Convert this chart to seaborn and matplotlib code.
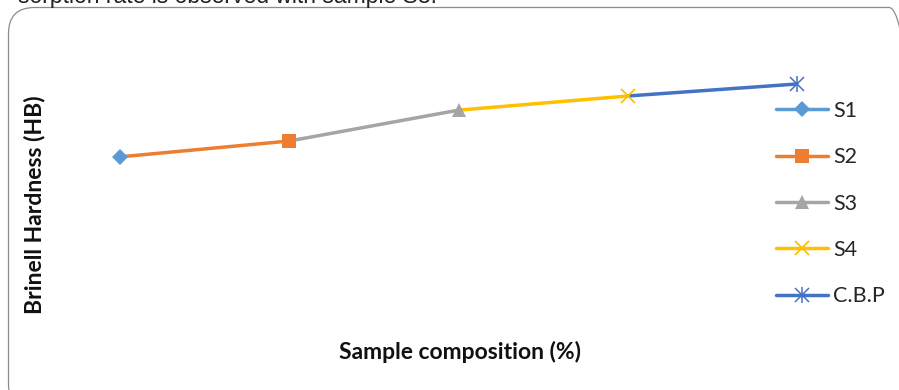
import matplotlib
matplotlib.use("Agg")
import matplotlib.pyplot as plt
import seaborn as sns
import pandas as pd
from matplotlib.lines import Line2D
from matplotlib.patches import FancyBboxPatch
from matplotlib.transforms import IdentityTransform
from matplotlib.legend_handler import HandlerTuple

# ---- data ----
series = ["S1", "S2", "S3", "S4", "C.B.P"]
positions = [0, 1, 2, 3, 4]
hardness = [40.4, 44.1, 51.3, 54.6, 57.4]
colors = ["#5B9BD5", "#ED7D31", "#A5A5A5", "#FFC000", "#4472C4"]
x_label = "Sample composition (%)"
y_label = "Brinell Hardness (HB)"
page_text = "sorption rate is observed with sample S3."

sns.set_theme(style="white")
plt.rcParams["font.family"] = ["Lato", "DejaVu Sans"]

W, H = 899, 390
fig = plt.figure(figsize=(W / 100, H / 100), dpi=100)

def fx(px):
    return px / W

def fy(py):
    return 1 - py / H

# rounded border (drawn in pixel coordinates, origin bottom-left)
border = FancyBboxPatch((8.5, H - 410), 915 - 8.5, 410 - 7.5,
                        boxstyle="round,pad=0,rounding_size=26",
                        transform=IdentityTransform(), fill=False, edgecolor="#8C8C8C",
                        linewidth=0.9, clip_on=False)
fig.patches.append(border)

# text from the page above, cut at the top edge as in the reference
fig.text(fx(437), fy(3.5), page_text, ha="right", va="baseline",
         fontsize=16.5, family=["Liberation Sans", "DejaVu Sans"], color="#222222")

ax = fig.add_axes([fx(35.5), fy(330), fx(881.5) - fx(35.5), fy(30) - fy(330)])
ax.set_xlim(-0.5, 4.5)
ax.set_ylim(0, 70)
ax.axis("off")

# segments: each series connects the previous point to its own
for i in range(1, len(series)):
    seg = pd.DataFrame({"x": positions[i - 1:i + 1], "y": hardness[i - 1:i + 1]})
    sns.lineplot(data=seg, x="x", y="y", ax=ax, color=colors[i], linewidth=2.5,
                 sort=False, legend=False)

markers = ["D", "s", "^", "x", None]
sizes = [8.5, 9.5, 10.5, 9.5, 10]
df = pd.DataFrame({"x": positions, "y": hardness, "series": series})
for i, s in enumerate(series):
    sub = df[df["series"] == s]
    if markers[i] is None:
        ax.plot(sub["x"], sub["y"], linestyle="none", marker="x", markersize=sizes[i],
                color=colors[i], markeredgewidth=1.1, zorder=5)
        ax.plot(sub["x"], sub["y"], linestyle="none", marker="|", markersize=sizes[i] * 1.15,
                color=colors[i], markeredgewidth=1.1, zorder=5)
    elif markers[i] == "x":
        ax.plot(sub["x"], sub["y"], linestyle="none", marker="x", markersize=sizes[i],
                color=colors[i], markeredgewidth=1.3, zorder=5)
    else:
        ax.plot(sub["x"], sub["y"], linestyle="none", marker=markers[i], markersize=sizes[i],
                color=colors[i], markeredgewidth=0, zorder=5)

# legend
handles = []
for i, s in enumerate(series):
    if markers[i] is None:
        h1 = Line2D([], [], color=colors[i], linewidth=2.5, marker="x", markersize=sizes[i],
                    markeredgewidth=1.1)
        h2 = Line2D([], [], color=colors[i], linewidth=0, marker="|", markersize=sizes[i] * 1.15,
                    markeredgewidth=1.1)
        handles.append((h1, h2))
    elif markers[i] == "x":
        handles.append(Line2D([], [], color=colors[i], linewidth=2.5, marker="x",
                              markersize=sizes[i], markeredgewidth=1.3))
    else:
        handles.append(Line2D([], [], color=colors[i], linewidth=2.5, marker=markers[i],
                              markersize=sizes[i], markeredgewidth=0))
fig.legend(handles, series, loc="upper left", bbox_to_anchor=(fx(776), fy(101)),
           frameon=False, fontsize=15.5, handlelength=2.4, handletextpad=0.25,
           labelspacing=1.22, borderpad=0, borderaxespad=0,
           handler_map={tuple: HandlerTuple(ndivide=1, pad=0)})

# axis titles
fig.text(fx(460), fy(352), x_label, ha="center", va="center", fontsize=16.5,
         fontweight="bold", color="#111111")
fig.text(fx(35), fy(205), y_label, ha="center", va="center", rotation=90,
         fontsize=16.5, fontweight="bold", color="#111111")

fig.savefig("out.png", dpi=100)
